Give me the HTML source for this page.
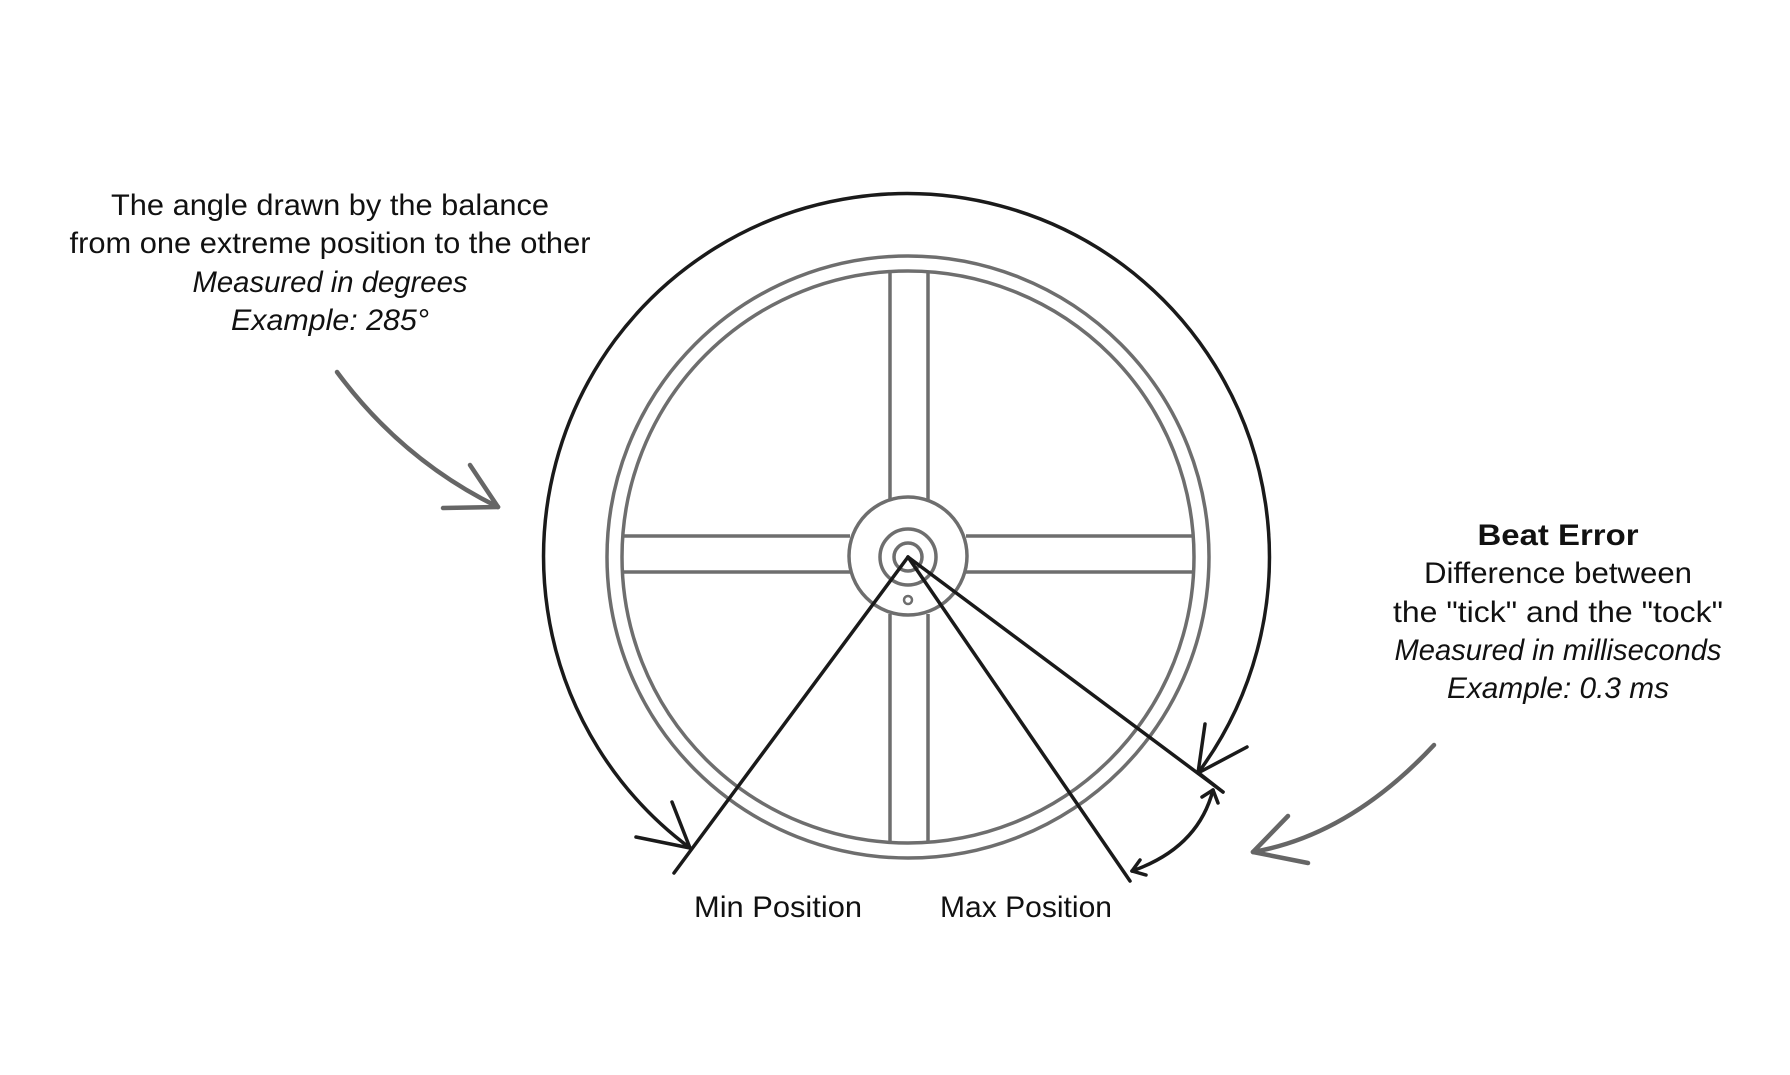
<!DOCTYPE html>
<html><head><meta charset="utf-8"><style>
html,body{margin:0;padding:0;background:#fff;}
svg{display:block;}
text{font-family:"Liberation Sans",Arial,sans-serif;fill:#111;}
</style></head><body>
<svg width="1790" height="1075" viewBox="0 0 1790 1075" xmlns="http://www.w3.org/2000/svg">
<rect width="1790" height="1075" fill="#fff"/>
<!-- left text -->
<g font-size="30" text-anchor="middle">
<text x="330" y="215" textLength="438" lengthAdjust="spacingAndGlyphs">The angle drawn by the balance</text>
<text x="330" y="253" textLength="521" lengthAdjust="spacingAndGlyphs">from one extreme position to the other</text>
<text x="330" y="292" font-style="italic" textLength="275" lengthAdjust="spacingAndGlyphs">Measured in degrees</text>
<text x="330" y="330" font-style="italic" textLength="198" lengthAdjust="spacingAndGlyphs">Example: 285°</text>
</g>
<!-- right text -->
<g font-size="30" text-anchor="middle">
<text x="1558" y="545" font-weight="bold" textLength="161" lengthAdjust="spacingAndGlyphs">Beat Error</text>
<text x="1558" y="583" textLength="268" lengthAdjust="spacingAndGlyphs">Difference between</text>
<text x="1558" y="622" textLength="330" lengthAdjust="spacingAndGlyphs">the "tick" and the "tock"</text>
<text x="1558" y="660" font-style="italic" textLength="327" lengthAdjust="spacingAndGlyphs">Measured in milliseconds</text>
<text x="1558" y="698" font-style="italic" textLength="222" lengthAdjust="spacingAndGlyphs">Example: 0.3 ms</text>
</g>
<g font-size="30">
<text x="694" y="917" textLength="168" lengthAdjust="spacingAndGlyphs">Min Position</text>
<text x="940" y="917" textLength="172" lengthAdjust="spacingAndGlyphs">Max Position</text>
</g>
<!-- wheel -->
<g fill="none" stroke="#6e6e6e" stroke-width="3.5">
<circle cx="908" cy="557" r="301"/>
<circle cx="908" cy="557" r="286"/>
<line x1="890" y1="271" x2="890" y2="500"/>
<line x1="928" y1="271" x2="928" y2="500"/>
<line x1="890" y1="614" x2="890" y2="843"/>
<line x1="928" y1="614" x2="928" y2="843"/>
<line x1="622" y1="536" x2="850" y2="536"/>
<line x1="622" y1="572" x2="850" y2="572"/>
<line x1="966" y1="536" x2="1194" y2="536"/>
<line x1="966" y1="572" x2="1194" y2="572"/>
<circle cx="908" cy="556" r="59"/>
<circle cx="908" cy="557" r="28"/>
<circle cx="908" cy="557" r="14"/>
<circle cx="908" cy="600" r="4" stroke-width="2.5"/>
</g>
<!-- black lines -->
<g fill="none" stroke="#1a1a1a" stroke-width="3.5" stroke-linecap="round">
<line x1="908" y1="557" x2="674" y2="873"/>
<line x1="908" y1="557" x2="1130" y2="881"/>
<line x1="908" y1="557" x2="1223" y2="792"/>
<path d="M690,848 A363,363 0 1 1 1198,773"/>
<line x1="690" y1="848" x2="636" y2="837"/>
<line x1="690" y1="848" x2="672" y2="802"/>
<line x1="1198" y1="773" x2="1205" y2="724"/>
<line x1="1198" y1="773" x2="1247" y2="747"/>
<line x1="1223" y1="792" x2="1200" y2="774"/>
<path d="M1132,871 Q1198,848 1213,790"/>
<line x1="1213" y1="790" x2="1202" y2="797"/>
<line x1="1213" y1="790" x2="1218" y2="803"/>
<line x1="1132" y1="871" x2="1140" y2="860"/>
<line x1="1132" y1="871" x2="1146" y2="875"/>
</g>
<!-- gray arrows -->
<g fill="none" stroke="#666" stroke-width="4.5" stroke-linecap="round">
<path d="M337,372 Q402,460 498,507"/>
<line x1="498" y1="507" x2="443" y2="508"/>
<line x1="498" y1="507" x2="470" y2="465"/>
<path d="M1434,745 Q1350,835 1253,852"/>
<line x1="1253" y1="852" x2="1288" y2="816"/>
<line x1="1253" y1="852" x2="1308" y2="863"/>
</g>
</svg>
</body></html>
